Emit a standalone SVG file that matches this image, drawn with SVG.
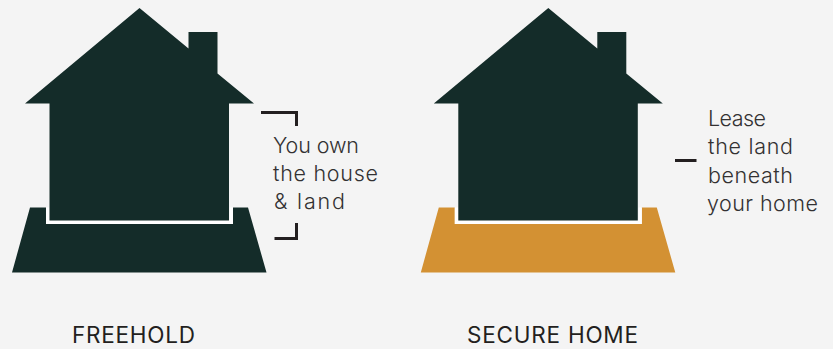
<svg xmlns="http://www.w3.org/2000/svg" width="833" height="349" viewBox="0 0 833 349">
<style>
.bg{fill:#f4f4f4}
.dark{fill:#142c29}
.gold{fill:#d39133}
.gap{fill:none;stroke:#fff;stroke-width:3.4}
.tick{fill:none;stroke:#231f20;stroke-width:3}
text{font-family:"Inter","Liberation Sans",sans-serif;fill:#333132;font-size:21.5px;font-weight:350}
.title{fill:#231f20;font-size:22.5px;font-weight:400}
</style>
<defs>
<path id="house" d="M139.5 8L188.5 48.5V32H217.5V73.5L254 103.5H229V220.5H49.5V103.5H25Z"/>
<path id="land" d="M30 207.5H46V224H233V207.5H248L266.500 272.500H12Z"/>
</defs>
<rect class="bg" width="833" height="349"/>
<g id="freehold">
<use href="#land" class="dark"/>
<path class="gap" d="M47.700 207.500V222.300H231.300V207.500"/>
<use href="#house" class="dark"/>
<text x="273" y="153" textLength="86">You own</text>
<text x="273" y="181" textLength="105">the house</text>
<text x="274" y="209" textLength="71">&amp; land</text>
<text class="title" x="72" y="343" textLength="123">FREEHOLD</text>
</g>
<g id="secure-home">
<use href="#land" class="gold" x="408.800"/>
<path class="gap" transform="translate(408.800 0)" d="M47.700 207.500V222.300H231.300V207.500"/>
<use href="#house" class="dark" x="408.800"/>
<text x="708" y="126" textLength="58">Lease</text>
<text x="708" y="154" textLength="85">the land</text>
<text x="708" y="183" textLength="85">beneath</text>
<text x="707" y="211" textLength="111">your home</text>
<text class="title" x="467" y="343" textLength="171">SECURE HOME</text>
</g>
<g id="connectors">
<path class="tick" d="M261 112.500H296.500V126"/>
<path class="tick" d="M274.500 238.500H296.500V223"/>
<path class="tick" d="M675 160.500H696.500"/>
</g>
</svg>
